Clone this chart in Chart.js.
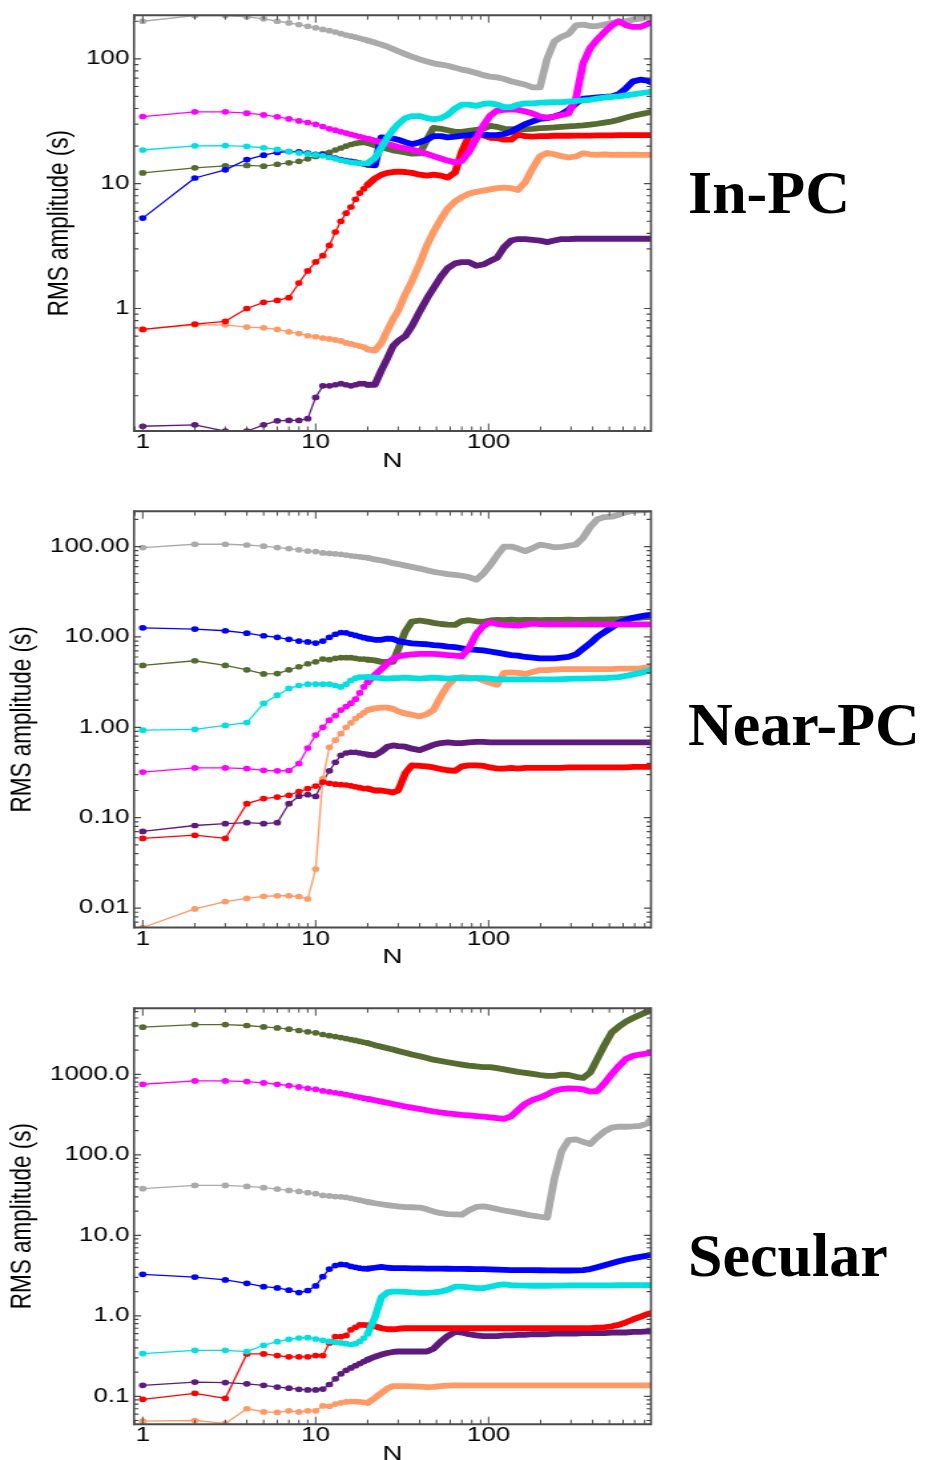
<!DOCTYPE html>
<html><head><meta charset="utf-8">
<script src="https://cdn.jsdelivr.net/npm/chart.js@4.4.1/dist/chart.umd.min.js"></script>
<style>
html,body{margin:0;padding:0;background:#fff;width:929px;height:1460px;overflow:hidden;}
.wrap{position:absolute;left:0;transform-origin:0 0;transform:scaleX(1.33);}
.wrap canvas{display:block;}
.lbl{position:absolute;left:688px;font-family:"Liberation Serif","Times New Roman",serif;font-weight:bold;font-size:62px;line-height:62px;color:#000;white-space:nowrap;}
</style></head>
<body>
<div class="wrap" style="top:0px"><canvas id="c1" width="699" height="474"></canvas></div>
<div class="wrap" style="top:496px"><canvas id="c2" width="699" height="474"></canvas></div>
<div class="wrap" style="top:993px"><canvas id="c3" width="699" height="474"></canvas></div>
<div class="lbl" id="t1" style="top:161px"></div>
<div class="lbl" id="t2" style="top:693px"></div>
<div class="lbl" id="t3" style="top:1224px"></div>
<script>
// ---------------- DATA ----------------
const panelTitles = ['In-PC', 'Near-PC', 'Secular'];
const N = [1,2,3,4,5,6,7,8,9,10,11,12,13,14,15,16,17,18,19,20,
  22,24,26,28,30,33,36,40,44,48,53,58,64,70,77,85,93,102,112,123,
  135,148,163,180,198,218,240,264,290,320,352,387,425,468,515,566,623,685,754,830,865];

const xTickValues = [1, 10, 100];
const xTickLabels = ['1', '10', '100'];
const yTicksInPC = [1, 10, 100];
const yLabelsInPC = ['1', '10', '100'];
const yTicksNearPC = [0.01, 0.1, 1, 10, 100];
const yLabelsNearPC = ['0.01', '0.10', '1.00', '10.00', '100.00'];
const yTicksSecular = [0.1, 1, 10, 100, 1000];
const yLabelsSecular = ['0.1', '1.0', '10.0', '100.0', '1000.0'];

// In-PC
const inpcGrey = [200,222,222,217,209,200,194,188,182,177, 172,168,164,159,155,152,149,146,143,140,
  135,130,125,120,115, 109,104,99,95,92, 90,88,85,82,80, 77,74,72,71,69, 66,64,62,59,59, 100,138,150,158,185, 188,183,183,188,194, 198,200,206,210,216, 220];
const inpcMagenta = [34.5,37.6,37.6,36.7,35.5,34.3,33,31.8,30.9,29.9, 28.7,27.5,26.8,26.0,25.4,24.8,24.3,23.8,23.3,22.9,
  22.1,21.4,20.8,20.2,19.7, 19.1,18.7,18.0,17.3,16.6, 15.9,15.3,14.8,15.2,18.0, 23,29,35,38.5,39, 39.4,39,37.8,36.5,34.5, 33.8,34.5,35.5,36.5,48, 92,122,143,163,185, 200,186,180,180,190, 195];
const inpcCyan = [18.6,20.1,20.2,19.9,19.4,18.8,18.1,17.6,17.3,17.0, 16.7,16.2,15.8,15.4,15.1,14.8,14.7,14.6,14.5,14.6,
  16.0,19.5,23.5,27,30, 33.5,34.8,34.8,33.5,32.8, 33.5,35.5,40,43,43, 42,43.5,44,43,41, 41,43,44,44,44.5, 44.7,45,45,45.5,46, 46.5,47,48,49,49.5, 50,51,52,53,54, 54.5];
const inpcBlue = [5.3,11.1,12.9,15.6,16.9,17.8,18.1,18.0,17.6,17.2, 17.0,16.3,16.0,15.6,15.3,15.1,14.9,14.6,14.4,14.2,
  14.0,23.5,23.3,23.0,22.5, 21.5,20.7,21.5,22.5,24, 24,23.5,23.8,24.2,24.5, 25,24.7,24.5,24.5,25, 26,28,30,31.5,33, 33.5,34.5,36,39,44, 48,48.5,49,49.5,50, 52,58,66,68,67, 65];
const inpcOlive = [12.2,13.4,13.9,14.0,13.8,14.3,14.7,15.1,15.8,16.5, 17.4,17.8,18.6,19.3,20.0,20.6,21.0,21.3,21.4,21.2,
  20.3,19.7,19.0,18.5,18.2, 17.8,17.4,17.5,22.5,28, 27.5,26.8,26,26,26.5, 27,27.5,29,28.5,27.5, 27.3,27.3,27.3,27.5,27.8, 28,28.2,28.5,28.8,29, 29.3,29.7,30.2,30.8,31.5, 32.5,33.8,35,36,37, 37.5];
const inpcRed = [0.68,0.75,0.79,1.0,1.12,1.16,1.22,1.6,2.0,2.36, 2.65,3.2,4.1,5.0,5.8,6.5,7.5,8.4,9.1,9.8,
  11.0,11.8,12.2,12.4,12.5, 12.4,12.2,11.8,11.6,11.8, 11.6,11.2,12.3,18,24, 25.3,24.5,23.3,23.2,22.5, 22.5,24.8,24,23.8,24, 24,24.2,24.2,24.2,24.3, 24.3,24.3,24.4,24.4,24.4, 24.5,24.5,24.5,24.5,24.5, 24.5];
const inpcSalmon = [0.68,0.74,0.74,0.71,0.70,0.68,0.65,0.63,0.605,0.594, 0.58,0.57,0.56,0.55,0.53,0.52,0.51,0.50,0.49,0.47,
  0.46,0.53,0.67,0.82,0.96, 1.3,1.65,2.3,3.2,4.1, 5.2,6.3,7.2,7.8,8.3, 8.6,8.8,9.0,9.2,9.3, 9.2,8.9,10.3,13.3,16.5, 17.6,17.2,16.6,16.2,16.5, 17.5,17.2,17,17.2,17, 17.1,17,17.1,17,17, 17];
const inpcPurple = [0.114,0.117,0.104,0.104,0.117,0.126,0.127,0.127,0.131,0.194, 0.24,0.24,0.245,0.25,0.245,0.24,0.245,0.25,0.25,0.245,
  0.245,0.32,0.40,0.5,0.55, 0.6,0.72,0.95,1.2,1.45, 1.8,2.1,2.3,2.35,2.35, 2.2,2.25,2.4,2.55,3.1, 3.5,3.6,3.6,3.55,3.5, 3.4,3.5,3.6,3.6,3.62, 3.62,3.62,3.62,3.62,3.62, 3.62,3.62,3.62,3.62,3.62, 3.62];

// Near-PC
const nearGrey = [97.5,106,106,104,101,97.5,95,92,89,88, 85,84,83,82,80.5,79,78,77,76,75,
  72,70,68,65.5,64, 61.5,59.5,57,54.5,52.5, 51,49.5,48.5,47.5,46, 43,50,62,80,100, 100,95,89,96,105, 102,98,99,102,105, 125,165,200,212,214, 225,240,248,252,255, 256];
const nearBlue = [12.6,12.2,11.7,11.0,10.3,9.9,9.4,9.0,8.8,8.55, 9.0,9.9,10.7,11.2,11.1,10.7,10.4,10.1,9.8,9.6,
  9.3,9.3,9.6,9.5,9.0, 8.7,8.5,8.4,8.3,8.1, 8.0,7.8,7.7,7.5,7.3, 7.2,7.1,6.9,6.7,6.5, 6.3,6.2,6.0,5.9,5.8, 5.8,5.8,5.9,6.0,6.4, 7.4,8.5,10.0,11.3,12.7, 14.3,15.4,16.3,16.9,17.4, 17.5];
const nearOlive = [4.84,5.45,4.84,4.33,3.9,3.93,4.33,4.68,5.05,5.3, 5.7,5.6,5.8,5.9,5.9,5.9,5.8,5.7,5.7,5.6,
  5.5,5.3,5.3,5.3,7.3, 11.5,14.8,15.2,14.8,14.3, 13.9,13.7,13.6,15.0,15.3, 14.9,14.7,15.2,15.4,15.3, 15.5,15.3,15.4,15.4,15.3, 15.4,15.4,15.4,15.5,15.4, 15.4,15.5,15.5,15.5,15.6, 15.7,15.9,16.1,16.3,16.6, 16.7];
const nearCyan = [0.93,0.95,1.05,1.13,1.84,2.27,2.69,2.9,3.0,3.0, 3.0,3.0,2.9,2.8,3.0,3.3,3.5,3.6,3.6,3.6,
  3.55,3.5,3.45,3.5,3.5, 3.55,3.5,3.45,3.5,3.55, 3.5,3.45,3.5,3.5,3.45, 3.5,3.5,3.45,3.4,3.4, 3.4,3.4,3.4,3.4,3.4, 3.4,3.4,3.42,3.43,3.45, 3.45,3.47,3.5,3.5,3.55, 3.6,3.7,3.85,4.0,4.2, 4.3];
const nearMagenta = [0.32,0.355,0.355,0.35,0.334,0.33,0.333,0.397,0.59,0.82, 1.0,1.2,1.35,1.55,1.7,1.85,2.05,2.4,2.8,3.15,
  3.8,4.4,5.1,5.7,6.1, 6.3,6.4,6.5,6.5,6.5, 6.4,6.3,6.2,6.1,7.5, 10.8,13.2,14.5,13.9,13.6, 13.5,13.3,13.7,14,13.9, 13.8,13.9,13.8,13.8,13.9, 13.8,13.8,13.8,13.8,13.8, 13.8,13.8,13.8,13.8,13.8, 13.8];
const nearRed = [0.059,0.064,0.059,0.143,0.163,0.169,0.177,0.195,0.21,0.224, 0.248,0.24,0.235,0.232,0.23,0.225,0.22,0.215,0.21,0.21,
  0.2,0.2,0.195,0.19,0.2, 0.31,0.38,0.375,0.37,0.36, 0.345,0.335,0.33,0.37,0.38, 0.38,0.375,0.36,0.35,0.35, 0.355,0.35,0.355,0.355,0.355, 0.355,0.355,0.355,0.36,0.36, 0.36,0.36,0.36,0.36,0.36, 0.36,0.36,0.365,0.365,0.365, 0.365];
const nearPurple = [0.0705,0.082,0.086,0.088,0.086,0.088,0.143,0.173,0.18,0.172, 0.25,0.33,0.41,0.49,0.52,0.53,0.53,0.52,0.51,0.5,
  0.49,0.54,0.61,0.63,0.62, 0.61,0.58,0.56,0.6,0.64, 0.67,0.68,0.67,0.67,0.68, 0.69,0.69,0.68,0.68,0.68, 0.68,0.68,0.68,0.68,0.68, 0.68,0.68,0.68,0.68,0.68, 0.68,0.68,0.68,0.68,0.68, 0.68,0.68,0.68,0.68,0.68, 0.68];
const nearSalmon = [0.0061,0.0098,0.0118,0.0128,0.0135,0.0137,0.0137,0.0134,0.0126,0.027, 0.27,0.6,0.72,0.85,1.0,1.12,1.25,1.35,1.45,1.55,
  1.62,1.65,1.65,1.6,1.5, 1.42,1.38,1.32,1.4,1.55, 2.2,2.9,3.5,3.6,3.55, 3.5,3.3,3.1,2.95,4.0, 4.05,4.0,3.9,4.1,4.3, 4.3,4.35,4.4,4.4,4.4, 4.4,4.4,4.4,4.4,4.4, 4.45,4.45,4.45,4.5,4.6, 4.7];

// Secular
const secOlive = [3846,4150,4150,4035,3875,3765,3630,3500,3365,3270, 3120,3020,2940,2860,2780,2700,2630,2560,2500,2440,
  2300,2200,2110,2030,1950, 1850,1760,1670,1590,1520, 1460,1410,1360,1320,1280, 1250,1230,1230,1190,1150, 1110,1070,1040,1010,980, 955,955,990,980,930, 900,1050,1550,2300,3300, 3900,4500,5000,5500,6000, 6200];
const secMagenta = [752,826,826,811,780,752,723,696,671,652, 622,605,590,575,560,545,530,518,505,495,
  475,458,442,428,415, 398,385,370,357,345, 335,327,320,313,308, 303,298,292,285,280, 300,360,430,480,512, 560,625,655,670,665, 650,610,620,770,1000, 1260,1550,1700,1760,1820, 1850];
const secGrey = [37.9,41.6,41.6,40.4,39,37.5,36.1,35.1,33.8,32.9, 31.3,30.8,30.3,30.0,29.5,28.8,28.0,27.3,26.6,26.0,
  25.0,24.3,23.7,23.2,22.8, 22.4,22.3,22.1,21.0,19.8, 18.8,18.3,18.2,18.0,20.5, 22.5,22.8,22.2,21.2,20.3, 19.7,19.0,18.2,17.5,17.0, 16.5,50,110,152,155, 145,136,165,195,218, 223,223,225,228,245, 275];
const secBlue = [3.27,3.03,2.79,2.53,2.3,2.22,2.08,1.94,2.06,2.35, 3.06,3.8,4.2,4.35,4.3,4.1,4.0,3.9,3.85,3.85,
  3.95,4.05,3.95,3.9,3.9, 3.9,3.88,3.87,3.86,3.85, 3.85,3.84,3.83,3.82,3.81, 3.8,3.8,3.78,3.75,3.72, 3.7,3.7,3.7,3.7,3.68, 3.67,3.66,3.65,3.65,3.66, 3.7,3.8,4.0,4.25,4.5, 4.75,5.0,5.2,5.4,5.6, 5.7];
const secCyan = [0.339,0.372,0.372,0.359,0.43,0.477,0.51,0.53,0.535,0.515, 0.496,0.48,0.47,0.46,0.45,0.44,0.45,0.48,0.53,0.6,
  0.95,1.7,1.95,2.0,2.0, 1.98,1.95,1.93,1.92,1.95, 2.0,2.1,2.3,2.3,2.25, 2.2,2.2,2.3,2.4,2.45, 2.4,2.38,2.37,2.36,2.36, 2.36,2.37,2.37,2.38,2.38, 2.38,2.38,2.39,2.39,2.39, 2.4,2.4,2.4,2.4,2.4, 2.4];
const secRed = [0.0916,0.109,0.094,0.336,0.336,0.32,0.309,0.309,0.309,0.32, 0.32,0.46,0.55,0.55,0.57,0.67,0.72,0.77,0.77,0.76,
  0.74,0.7,0.68,0.68,0.69, 0.7,0.7,0.7,0.7,0.7, 0.7,0.7,0.7,0.7,0.7, 0.7,0.7,0.7,0.7,0.7, 0.7,0.7,0.7,0.7,0.7, 0.7,0.7,0.7,0.7,0.7, 0.7,0.7,0.71,0.72,0.74, 0.77,0.83,0.9,0.97,1.05, 1.08];
const secPurple = [0.137,0.15,0.148,0.143,0.137,0.13,0.126,0.122,0.12,0.12, 0.123,0.14,0.165,0.19,0.21,0.225,0.24,0.255,0.27,0.285,
  0.31,0.33,0.345,0.355,0.36, 0.36,0.36,0.36,0.36,0.39, 0.48,0.56,0.63,0.62,0.59, 0.57,0.56,0.56,0.56,0.57, 0.57,0.58,0.58,0.59,0.59, 0.59,0.6,0.6,0.6,0.6, 0.61,0.61,0.61,0.61,0.62, 0.62,0.62,0.63,0.63,0.64, 0.64];
const secSalmon = [0.049,0.05,0.046,0.07,0.064,0.063,0.066,0.064,0.066,0.066, 0.076,0.075,0.08,0.083,0.085,0.086,0.086,0.085,0.084,0.083,
  0.095,0.11,0.125,0.134,0.134, 0.134,0.133,0.132,0.13,0.131, 0.134,0.136,0.137,0.137,0.137, 0.137,0.137,0.137,0.137,0.137, 0.137,0.137,0.137,0.137,0.137, 0.137,0.137,0.137,0.137,0.137, 0.137,0.137,0.137,0.137,0.137, 0.137,0.137,0.137,0.137,0.137, 0.137];

// ---------------- STYLE / LAYOUT ----------------
const COLORS = {grey:'#aaaaaa', magenta:'#ff00ff', cyan:'#00e0e0', blue:'#0000ff', olive:'#556b2f', red:'#ff0000', salmon:'#ff9966', purple:'#5e1a7c'};
const SX = 1.33;            // horizontal stretch of the whole figure
const CW = 699, CH = 474;   // internal canvas size
const PLOT_L = 134 / SX, PLOT_R = 651 / SX, PLOT_H = 417.5;
const FONT = '"Liberation Sans", Arial, Helvetica, sans-serif';

const panels = [
  {id:'c1', pad:13.5, ymin:0.1044, ymax:223.6, yt:yTicksInPC, yl:yLabelsInPC, titlePad:31,
   series:[['cyan',inpcCyan],['magenta',inpcMagenta],['grey',inpcGrey],['blue',inpcBlue],['olive',inpcOlive],['red',inpcRed],['salmon',inpcSalmon],['purple',inpcPurple]]},
  {id:'c2', pad:14, ymin:0.0061, ymax:246, yt:yTicksNearPC, yl:yLabelsNearPC, titlePad:3.5,
   series:[['cyan',nearCyan],['magenta',nearMagenta],['grey',nearGrey],['blue',nearBlue],['olive',nearOlive],['red',nearRed],['salmon',nearSalmon],['purple',nearPurple]]},
  {id:'c3', pad:13.7, ymin:0.045, ymax:6620, yt:yTicksSecular, yl:yLabelsSecular, titlePad:3.5,
   series:[['cyan',secCyan],['magenta',secMagenta],['grey',secGrey],['blue',secBlue],['olive',secOlive],['red',secRed],['salmon',secSalmon],['purple',secPurple]]}
];

const framePlugin = {
  id: 'frame',
  afterDatasetsDraw(chart) {
    const {ctx, chartArea: a, scales: {x, y}} = chart;
    const each = (scale, cb) => {
      const lo = Math.floor(Math.log10(scale.min)), hi = Math.ceil(Math.log10(scale.max));
      for (let d = lo; d <= hi; d++) for (let m = 1; m <= 9; m++) {
        const v = m * Math.pow(10, d);
        if (v < scale.min * 0.9999 || v > scale.max * 1.0001) continue;
        cb(scale.getPixelForValue(v), m === 1);
      }
    };
    ctx.save();
    ctx.strokeStyle = '#4a4a4a';
    ctx.lineWidth = 1;
    ctx.beginPath();
    each(x, (px, major) => {
      const L = major ? 7.5 : 4.5;
      ctx.moveTo(px, a.bottom); ctx.lineTo(px, a.bottom - L);
      ctx.moveTo(px, a.top); ctx.lineTo(px, a.top + L);
    });
    ctx.stroke();
    ctx.lineWidth = 1.2;
    ctx.beginPath();
    each(y, (py, major) => {
      const L = (major ? 7 : 4.5) / SX;
      ctx.moveTo(a.left, py); ctx.lineTo(a.left + L, py);
      ctx.moveTo(a.right, py); ctx.lineTo(a.right - L, py);
    });
    ctx.stroke();
    ctx.lineWidth = 2;
    ctx.beginPath();
    ctx.moveTo(a.left, a.top); ctx.lineTo(a.right, a.top);
    ctx.moveTo(a.left, a.bottom); ctx.lineTo(a.right, a.bottom);
    ctx.stroke();
    ctx.lineWidth = 1.6;
    ctx.beginPath();
    ctx.moveTo(a.left, a.top - 1); ctx.lineTo(a.left, a.bottom + 1);
    ctx.moveTo(a.right, a.top - 1); ctx.lineTo(a.right, a.bottom + 1);
    ctx.stroke();
    ctx.restore();
  }
};

panels.forEach((p, pi) => {
  const datasets = p.series.map(([c, vals]) => ({
    data: N.map((n, i) => ({x: n, y: vals[i]})),
    borderColor: COLORS[c], backgroundColor: COLORS[c],
    pointBackgroundColor: COLORS[c], pointBorderColor: COLORS[c], pointBorderWidth: 0,
    pointRadius: ctx => (ctx.raw && ctx.raw.x <= 20 ? 2.85 : 0),
    pointHoverRadius: 0,
    borderWidth: 1,
    segment: { borderWidth: ctx => (ctx.p0.parsed.x >= 20 ? 5.8 : 1.3) },
    borderCapStyle: 'round', borderJoinStyle: 'round',
    tension: 0, fill: false
  }));
  new Chart(document.getElementById(p.id), {
    type: 'line',
    data: { datasets },
    plugins: [framePlugin],
    options: {
      responsive: false, animation: false, devicePixelRatio: 1,
      events: [],
      layout: { padding: { top: p.pad, left: 0, right: CW - PLOT_R, bottom: 0 } },
      plugins: { legend: { display: false }, tooltip: { enabled: false } },
      scales: {
        x: {
          type: 'logarithmic', position: 'bottom', min: 0.89, max: 870,
          grid: { display: false, drawTicks: false }, border: { display: false },
          ticks: { autoSkip: false, maxRotation: 0, minRotation: 0, padding: 0, color: '#000',
                   font: { family: FONT, size: 19.5 },
                   callback: v => { const k = xTickValues.indexOf(v); return k >= 0 ? xTickLabels[k] : ''; } },
          afterBuildTicks: s => { s.ticks = xTickValues.map(v => ({ value: v })); },
          afterFit: s => { s.height = CH - p.pad - PLOT_H; },
          title: { display: true, text: 'N', color: '#000', font: { family: FONT, size: 21 }, padding: { top: 0, bottom: 0 } }
        },
        y: {
          type: 'logarithmic', position: 'left', min: p.ymin, max: p.ymax,
          grid: { display: false, drawTicks: false }, border: { display: false },
          ticks: { autoSkip: false, padding: 3.5, color: '#000',
                   font: { family: FONT, size: 19.5 },
                   callback: v => { const k = p.yt.indexOf(v); return k >= 0 ? p.yl[k] : ''; } },
          afterBuildTicks: s => { s.ticks = p.yt.map(v => ({ value: v })); },
          afterFit: s => { s.width = PLOT_L; },
          title: { display: true, text: 'RMS amplitude (s)', color: '#000', font: { family: FONT, size: 22.5 }, padding: { top: p.titlePad, bottom: 0 } }
        }
      }
    }
  });
  document.getElementById('t' + (pi + 1)).textContent = panelTitles[pi];
});
</script>
</body></html>
